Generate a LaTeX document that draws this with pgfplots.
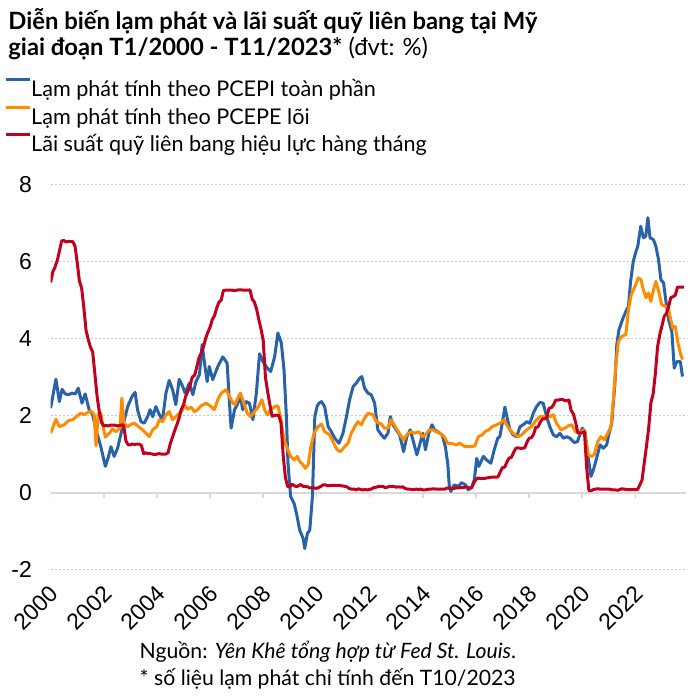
\documentclass[border=0pt]{standalone}
\usepackage{fontspec}
\setmainfont{Lato}
\newfontfamily\tickfont{Liberation Sans}
\usepackage{pgfplots}
\pgfplotsset{compat=1.18}
\definecolor{cblue}{RGB}{41,98,168}
\definecolor{corange}{RGB}{255,140,0}
\definecolor{cred}{RGB}{192,0,28}
\definecolor{cgrid}{RGB}{200,200,200}
\definecolor{czero}{RGB}{217,217,217}
\begin{document}
\begin{tikzpicture}
\useasboundingbox (-25.3pt,-62.65pt) rectangle (324.7pt,284.85pt);
\begin{axis}[
  at={(0pt,0pt)}, anchor=south west,
  scale only axis, width=317.65pt, height=192.75pt,
  xmin=2000, xmax=2023.9, ymin=-2, ymax=8,
  axis line style={draw=none},
  major tick length=0pt,
  xtick={2000,2002,2004,2006,2008,2010,2012,2014,2016,2018,2020,2022},
  xticklabels={2000,2002,2004,2006,2008,2010,2012,2014,2016,2018,2020,2022},
  ytick={-2,2,4,6,8}, yticklabels={-2,2,4,6,8},
  extra y ticks={0}, extra y tick labels={0},
  extra y tick style={ymajorgrids=true, major grid style={czero, solid, line width=1pt}},
  ymajorgrids,
  major grid style={cgrid, dash pattern=on 1pt off 1pt, line width=0.5pt},
  tick label style={font=\tickfont\fontsize{11.5}{13}\selectfont},
  yticklabel style={anchor=east, inner sep=0pt, xshift=-9.15pt},
  xticklabel style={inner sep=0pt, yshift=-7pt, xshift=-1pt, rotate=45, anchor=north east},
  legend cell align=left,
  legend style={at={(-0.0721,1.2776)}, anchor=north west, draw=none, fill=none,
    inner sep=0pt, outer sep=0pt, row sep=0pt, column sep=0pt,
    font=\fontsize{10.8}{12}\selectfont,
    nodes={inner sep=0pt, text height=9.75pt, text depth=4pt}},
  legend image code/.code={\draw[#1, line width=1.5pt] (0pt,5.6pt) -- (11.7pt,5.6pt);},
  every axis plot/.append style={line width=1.5pt, line join=round, no markers},
]
\addplot[cblue] coordinates {(2000,2.19)(2000.2,2.94)(2000.33,2.36)(2000.43,2.68)(2000.55,2.56)(2000.68,2.54)(2000.8,2.58)(2000.93,2.56)(2001.04,2.71)(2001.18,2.32)(2001.3,2.56)(2001.45,2.15)(2001.58,2.02)(2001.71,1.63)(2001.89,1.19)(2002.06,0.68)(2002.18,0.94)(2002.27,1.19)(2002.39,0.94)(2002.52,1.15)(2002.71,1.71)(2002.9,2.23)(2003.06,2.49)(2003.18,2.6)(2003.27,2.15)(2003.4,1.84)(2003.52,1.8)(2003.65,1.97)(2003.74,2.15)(2003.84,1.97)(2003.96,2.23)(2004.09,2.02)(2004.21,1.89)(2004.34,2.58)(2004.46,2.91)(2004.59,2.67)(2004.71,2.28)(2004.84,2.94)(2004.97,2.75)(2005.06,2.58)(2005.22,2.84)(2005.35,2.54)(2005.47,2.88)(2005.6,3.06)(2005.7,3.84)(2005.79,3.36)(2005.89,2.88)(2005.97,3.27)(2006.1,2.93)(2006.29,3.27)(2006.48,3.52)(2006.64,3.36)(2006.73,2.32)(2006.79,1.67)(2006.92,2.15)(2007.02,2.28)(2007.14,2.49)(2007.23,2.15)(2007.36,2.36)(2007.48,2.32)(2007.61,1.89)(2007.74,2.58)(2007.86,3.6)(2007.99,3.4)(2008.15,3.23)(2008.28,3.14)(2008.43,3.53)(2008.55,4.14)(2008.68,3.88)(2008.78,3.19)(2008.87,1.97)(2008.93,0.76)(2009.03,-0.1)(2009.16,-0.28)(2009.25,-0.54)(2009.37,-0.97)(2009.5,-1.19)(2009.56,-1.45)(2009.66,-1.06)(2009.75,-0.97)(2009.85,-0.1)(2009.94,1.97)(2010.03,2.25)(2010.1,2.32)(2010.19,2.36)(2010.31,2.23)(2010.44,1.71)(2010.56,1.58)(2010.69,1.41)(2010.85,1.28)(2011,1.54)(2011.13,1.97)(2011.25,2.41)(2011.38,2.75)(2011.5,2.84)(2011.63,2.97)(2011.71,3.01)(2011.81,2.71)(2011.94,2.58)(2012.06,2.54)(2012.19,2.32)(2012.31,1.63)(2012.44,1.5)(2012.56,1.41)(2012.69,1.54)(2012.78,1.97)(2012.88,1.76)(2013,1.63)(2013.13,1.5)(2013.28,1.06)(2013.4,1.45)(2013.53,1.63)(2013.63,1.37)(2013.78,0.98)(2013.9,1.28)(2014,1.54)(2014.1,1.11)(2014.23,1.54)(2014.35,1.76)(2014.44,1.63)(2014.56,1.58)(2014.73,1.5)(2014.85,1.19)(2014.94,0.76)(2015,0.16)(2015.06,0.03)(2015.18,0.2)(2015.34,0.16)(2015.46,0.26)(2015.61,0.2)(2015.71,0.07)(2015.84,0.14)(2015.94,0.33)(2016.03,0.89)(2016.11,0.68)(2016.28,0.94)(2016.4,0.85)(2016.56,0.76)(2016.69,1.11)(2016.82,1.41)(2016.9,1.45)(2016.99,1.8)(2017.09,2.22)(2017.19,1.89)(2017.28,1.63)(2017.4,1.5)(2017.53,1.45)(2017.66,1.71)(2017.78,1.76)(2017.91,1.84)(2018.03,1.8)(2018.16,2.06)(2018.28,2.23)(2018.41,2.34)(2018.53,2.32)(2018.66,1.97)(2018.78,1.71)(2018.91,1.5)(2019.03,1.45)(2019.16,1.54)(2019.29,1.41)(2019.41,1.45)(2019.54,1.41)(2019.7,1.3)(2019.82,1.32)(2019.91,1.5)(2020.0,1.67)(2020.1,1.58)(2020.2,1.02)(2020.33,0.42)(2020.42,0.59)(2020.54,0.89)(2020.67,1.24)(2020.79,1.15)(2020.92,1.24)(2021.01,1.54)(2021.11,1.8)(2021.23,2.84)(2021.3,3.84)(2021.38,4.22)(2021.51,4.48)(2021.64,4.7)(2021.74,4.83)(2021.82,5.48)(2021.92,6.0)(2022.01,6.23)(2022.09,6.39)(2022.2,6.91)(2022.3,6.61)(2022.39,6.65)(2022.47,7.13)(2022.55,6.61)(2022.68,6.56)(2022.77,6.39)(2022.87,6.04)(2022.96,5.52)(2023.06,5.44)(2023.14,5.0)(2023.25,4.48)(2023.37,4.18)(2023.46,3.23)(2023.56,3.4)(2023.69,3.4)(2023.77,3.01)};
\addlegendentry{Lạm phát tính theo PCEPI toàn phần}
\addplot[corange] coordinates {(2000,1.54)(2000.2,1.9)(2000.33,1.71)(2000.51,1.76)(2000.68,1.87)(2000.83,1.89)(2001.02,2.0)(2001.14,2.06)(2001.27,2.02)(2001.39,2.08)(2001.52,2.12)(2001.64,2.02)(2001.71,1.21)(2001.79,2.03)(2001.89,2.06)(2001.96,1.76)(2002.06,1.44)(2002.21,1.54)(2002.33,1.65)(2002.46,1.58)(2002.61,1.67)(2002.68,2.45)(2002.76,1.8)(2002.9,1.71)(2003.02,1.77)(2003.15,1.8)(2003.31,1.71)(2003.46,1.63)(2003.59,1.54)(2003.71,1.45)(2003.84,1.63)(2003.99,1.71)(2004.09,1.89)(2004.21,1.84)(2004.34,2.02)(2004.46,2.1)(2004.59,1.89)(2004.71,1.97)(2004.84,2.06)(2004.97,2.15)(2005.03,2.28)(2005.16,2.16)(2005.28,2.22)(2005.41,2.1)(2005.53,2.15)(2005.66,2.25)(2005.85,2.32)(2006.04,2.23)(2006.16,2.15)(2006.29,2.41)(2006.42,2.58)(2006.6,2.67)(2006.73,2.49)(2006.86,2.32)(2006.94,2.28)(2007.04,2.45)(2007.14,2.58)(2007.27,2.32)(2007.4,2.06)(2007.52,1.97)(2007.67,2.1)(2007.82,2.23)(2007.95,2.41)(2008.05,2.15)(2008.15,2.02)(2008.28,2.15)(2008.43,2.23)(2008.55,2.25)(2008.65,1.97)(2008.74,1.54)(2008.83,1.28)(2008.93,1.11)(2009.03,0.94)(2009.16,0.85)(2009.28,0.94)(2009.37,0.81)(2009.5,0.72)(2009.58,0.63)(2009.69,0.72)(2009.79,1.19)(2009.91,1.54)(2010.06,1.71)(2010.19,1.78)(2010.31,1.58)(2010.5,1.5)(2010.65,1.28)(2010.78,1.11)(2010.9,1.06)(2011.06,1.19)(2011.19,1.28)(2011.31,1.54)(2011.44,1.71)(2011.56,1.84)(2011.69,1.76)(2011.81,1.93)(2011.94,2.06)(2012.13,2.02)(2012.25,1.84)(2012.44,1.78)(2012.56,1.67)(2012.69,1.67)(2012.81,1.89)(2013,1.67)(2013.15,1.5)(2013.28,1.37)(2013.4,1.5)(2013.56,1.58)(2013.69,1.54)(2013.85,1.58)(2013.98,1.45)(2014.1,1.5)(2014.25,1.63)(2014.38,1.63)(2014.5,1.58)(2014.65,1.54)(2014.81,1.45)(2014.94,1.28)(2015.06,1.28)(2015.27,1.24)(2015.4,1.28)(2015.59,1.19)(2015.77,1.19)(2015.96,1.21)(2016.09,1.45)(2016.24,1.5)(2016.34,1.58)(2016.49,1.63)(2016.61,1.71)(2016.78,1.76)(2016.9,1.8)(2017.07,1.89)(2017.15,1.76)(2017.28,1.63)(2017.4,1.54)(2017.59,1.45)(2017.72,1.5)(2017.91,1.63)(2018.09,1.71)(2018.28,1.89)(2018.41,1.97)(2018.6,1.97)(2018.75,1.96)(2018.91,2.02)(2019.03,1.8)(2019.2,1.63)(2019.35,1.67)(2019.47,1.73)(2019.6,1.76)(2019.75,1.58)(2019.85,1.54)(2019.97,1.58)(2020.08,1.63)(2020.23,0.98)(2020.35,0.94)(2020.45,0.98)(2020.58,1.32)(2020.7,1.45)(2020.83,1.37)(2020.96,1.54)(2021.08,1.71)(2021.17,2.41)(2021.26,3.27)(2021.36,3.92)(2021.48,4.05)(2021.64,4.1)(2021.74,4.74)(2021.84,5.13)(2021.96,5.31)(2022.11,5.57)(2022.21,5.52)(2022.3,5.26)(2022.4,5.05)(2022.49,5.18)(2022.58,4.96)(2022.68,5.26)(2022.77,5.48)(2022.89,5.18)(2022.99,4.87)(2023.14,4.83)(2023.25,4.74)(2023.4,4.27)(2023.5,4.31)(2023.6,3.88)(2023.69,3.62)(2023.77,3.45)};
\addlegendentry{Lạm phát tính theo PCEPE lõi}
\addplot[cred] coordinates {
(2000,5.45)(2000.083,5.73)(2000.167,5.85)(2000.25,6.02)(2000.333,6.27)(2000.417,6.53)(2000.5,6.54)(2000.583,6.50)(2000.667,6.52)(2000.75,6.51)(2000.833,6.51)(2000.917,6.40)
(2001,5.98)(2001.083,5.49)(2001.167,5.31)(2001.25,4.80)(2001.333,4.21)(2001.417,3.97)(2001.5,3.77)(2001.583,3.65)(2001.667,3.07)(2001.75,2.49)(2001.833,2.09)(2001.917,1.82)
(2002,1.73)(2002.083,1.74)(2002.167,1.73)(2002.25,1.75)(2002.333,1.75)(2002.417,1.75)(2002.5,1.73)(2002.583,1.74)(2002.667,1.75)(2002.75,1.75)(2002.833,1.34)(2002.917,1.24)
(2003,1.24)(2003.083,1.26)(2003.167,1.25)(2003.25,1.26)(2003.333,1.26)(2003.417,1.22)(2003.5,1.01)(2003.583,1.03)(2003.667,1.01)(2003.75,1.01)(2003.833,1.00)(2003.917,0.98)
(2004,1.00)(2004.083,1.01)(2004.167,1.00)(2004.25,1.00)(2004.333,1.00)(2004.417,1.03)(2004.5,1.26)(2004.583,1.43)(2004.667,1.61)(2004.75,1.76)(2004.833,1.93)(2004.917,2.16)
(2005,2.28)(2005.083,2.50)(2005.167,2.63)(2005.25,2.79)(2005.333,3.00)(2005.417,3.04)(2005.5,3.26)(2005.583,3.50)(2005.667,3.62)(2005.75,3.78)(2005.833,4.00)(2005.917,4.16)
(2006,4.29)(2006.083,4.49)(2006.167,4.59)(2006.25,4.79)(2006.333,4.94)(2006.417,4.99)(2006.5,5.24)(2006.583,5.25)(2006.667,5.25)(2006.75,5.25)(2006.833,5.25)(2006.917,5.24)
(2007,5.25)(2007.083,5.26)(2007.167,5.26)(2007.25,5.25)(2007.333,5.25)(2007.417,5.25)(2007.5,5.26)(2007.583,5.02)(2007.667,4.94)(2007.75,4.76)(2007.833,4.49)(2007.917,4.24)
(2008,3.94)(2008.083,2.98)(2008.167,2.61)(2008.25,2.28)(2008.333,1.98)(2008.417,2.00)(2008.5,2.01)(2008.583,2.00)(2008.667,1.81)(2008.75,0.97)(2008.833,0.39)(2008.917,0.16)
(2009,0.15)(2009.083,0.22)(2009.167,0.18)(2009.25,0.15)(2009.333,0.18)(2009.417,0.21)(2009.5,0.16)(2009.583,0.16)(2009.667,0.15)(2009.75,0.12)(2009.833,0.12)(2009.917,0.12)
(2010,0.11)(2010.083,0.13)(2010.167,0.16)(2010.25,0.20)(2010.333,0.20)(2010.417,0.18)(2010.5,0.18)(2010.583,0.19)(2010.667,0.19)(2010.75,0.19)(2010.833,0.19)(2010.917,0.18)
(2011,0.17)(2011.083,0.16)(2011.167,0.14)(2011.25,0.10)(2011.333,0.09)(2011.417,0.09)(2011.5,0.07)(2011.583,0.10)(2011.667,0.08)(2011.75,0.07)(2011.833,0.08)(2011.917,0.07)
(2012,0.08)(2012.083,0.10)(2012.167,0.13)(2012.25,0.14)(2012.333,0.16)(2012.417,0.16)(2012.5,0.16)(2012.583,0.13)(2012.667,0.14)(2012.75,0.16)(2012.833,0.16)(2012.917,0.16)
(2013,0.14)(2013.083,0.15)(2013.167,0.14)(2013.25,0.15)(2013.333,0.11)(2013.417,0.09)(2013.5,0.09)(2013.583,0.08)(2013.667,0.08)(2013.75,0.09)(2013.833,0.08)(2013.917,0.09)
(2014,0.07)(2014.083,0.07)(2014.167,0.08)(2014.25,0.09)(2014.333,0.09)(2014.417,0.10)(2014.5,0.09)(2014.583,0.09)(2014.667,0.09)(2014.75,0.09)(2014.833,0.09)(2014.917,0.12)
(2015,0.11)(2015.083,0.11)(2015.167,0.11)(2015.25,0.12)(2015.333,0.12)(2015.417,0.13)(2015.5,0.13)(2015.583,0.14)(2015.667,0.14)(2015.75,0.12)(2015.833,0.12)(2015.917,0.24)
(2016,0.34)(2016.083,0.38)(2016.167,0.36)(2016.25,0.37)(2016.333,0.37)(2016.417,0.38)(2016.5,0.39)(2016.583,0.40)(2016.667,0.40)(2016.75,0.40)(2016.833,0.41)(2016.917,0.54)
(2017,0.65)(2017.083,0.66)(2017.167,0.79)(2017.25,0.90)(2017.333,0.91)(2017.417,1.04)(2017.5,1.15)(2017.583,1.16)(2017.667,1.15)(2017.75,1.15)(2017.833,1.16)(2017.917,1.30)
(2018,1.41)(2018.083,1.42)(2018.167,1.51)(2018.25,1.69)(2018.333,1.70)(2018.417,1.82)(2018.5,1.91)(2018.583,1.91)(2018.667,1.95)(2018.75,2.19)(2018.833,2.20)(2018.917,2.27)
(2019,2.40)(2019.083,2.40)(2019.167,2.41)(2019.25,2.42)(2019.333,2.39)(2019.417,2.38)(2019.5,2.40)(2019.583,2.13)(2019.667,2.04)(2019.75,1.83)(2019.833,1.55)(2019.917,1.55)
(2020,1.55)(2020.083,1.58)(2020.167,0.65)(2020.25,0.05)(2020.333,0.05)(2020.417,0.08)(2020.5,0.09)(2020.583,0.10)(2020.667,0.09)(2020.75,0.09)(2020.833,0.09)(2020.917,0.09)
(2021,0.09)(2021.083,0.08)(2021.167,0.07)(2021.25,0.07)(2021.333,0.06)(2021.417,0.08)(2021.5,0.10)(2021.583,0.09)(2021.667,0.08)(2021.75,0.08)(2021.833,0.08)(2021.917,0.08)
(2022,0.08)(2022.083,0.08)(2022.167,0.20)(2022.25,0.33)(2022.333,0.77)(2022.417,1.21)(2022.5,1.68)(2022.583,2.33)(2022.667,2.56)(2022.75,3.08)(2022.833,3.78)(2022.917,4.10)
(2023,4.33)(2023.083,4.57)(2023.167,4.65)(2023.25,4.83)(2023.333,5.06)(2023.417,5.08)(2023.5,5.12)(2023.583,5.33)(2023.667,5.33)(2023.75,5.33)(2023.833,5.33)};
\addlegendentry{Lãi suất quỹ liên bang hiệu lực hàng tháng}
\pgfplotsinvokeforeach{2000,2002,2004,2006,2008,2010,2012,2014,2016,2018,2020,2022}{
  \draw[czero, line width=0.8pt] (axis cs:#1,0) -- ([yshift=-2.5pt]axis cs:#1,0);
}
\end{axis}
\node[anchor=base west, inner sep=0pt, font=\bfseries\fontsize{11.9}{13}\selectfont] at (-21.3pt,270.2pt) {Diễn biến lạm phát và lãi suất quỹ liên bang tại Mỹ};
\node[anchor=base west, inner sep=0pt, font=\fontsize{11.9}{13}\selectfont] at (-21.3pt,256.85pt) {\textbf{giai đoạn T1/2000 - T11/2023*} (đvt: \%)};
\node[anchor=base west, inner sep=0pt, font=\fontsize{10.6}{12}\selectfont] at (44.35pt,-44.3pt) {Nguồn: \textit{Yên Khê tổng hợp từ Fed St. Louis}.};
\node[anchor=base west, inner sep=0pt, font=\fontsize{10.6}{12}\selectfont] at (44.35pt,-57.65pt) {* số liệu lạm phát chỉ tính đến T10/2023};
\end{tikzpicture}
\end{document}
